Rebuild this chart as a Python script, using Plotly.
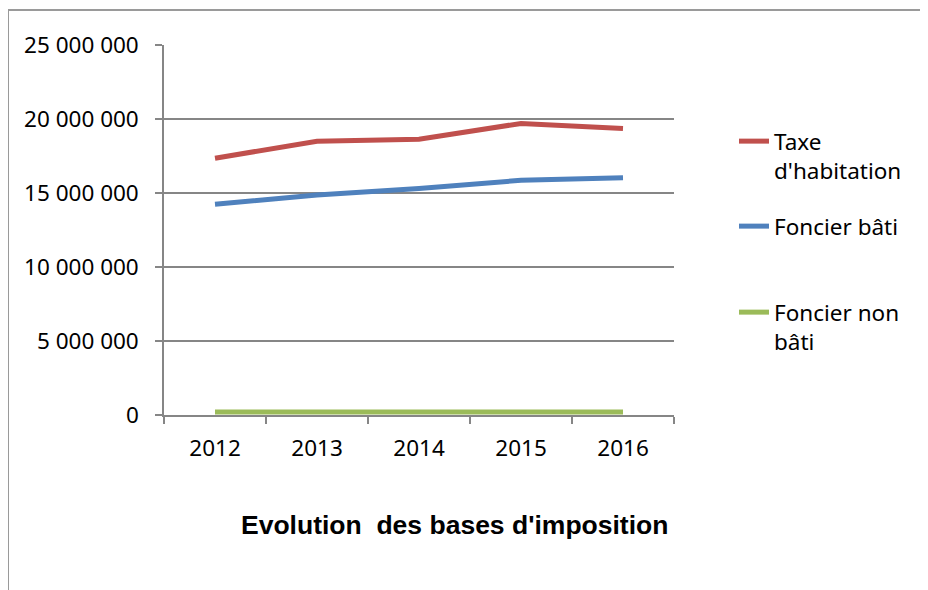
import plotly.graph_objects as go

years = ["2012", "2013", "2014", "2015", "2016"]
taxe_habitation = [17350000, 18500000, 18630000, 19700000, 19350000]
foncier_bati = [14240000, 14860000, 15300000, 15860000, 16030000]
foncier_non_bati = [200000, 200000, 200000, 200000, 200000]
y_ticks = [0, 5000000, 10000000, 15000000, 20000000, 25000000]

OFF = 8  # page body margin
W, H = 928 - OFF, 590 - OFF
# plot area in page pixels
L, R, T, B = 164, 674, 45, 415


def px(xp):
    return (xp - L) / (R - L)


def py(yp):
    return (B - yp) / (B - T)


FONT = "Noto Sans"
fig = go.Figure()
series = [
    ("Taxe<br>d'habitation", taxe_habitation, "#C0504D", "legend"),
    ("Foncier bâti", foncier_bati, "#4F81BD", "legend2"),
    ("Foncier non<br>bâti", foncier_non_bati, "#9BBB59", "legend3"),
]
for name, vals, col, leg in series:
    fig.add_trace(go.Scatter(x=years, y=vals, name=name, mode="lines",
                             line=dict(color=col, width=5), legend=leg))

legfont = dict(family=FONT, size=22.5, color="#000000")
legcommon = dict(font=legfont, bgcolor="rgba(0,0,0,0)", xanchor="left",
                 yanchor="top", valign="top", x=px(734))
fig.update_layout(
    width=W, height=H,
    margin=dict(l=L - OFF, r=W - (R - OFF), t=T - OFF, b=H - (B - OFF)),
    paper_bgcolor="white", plot_bgcolor="white",
    separators=", ",
    showlegend=True,
    legend=dict(**legcommon, y=py(120)),
    legend2=dict(**legcommon, y=py(205)),
    legend3=dict(**legcommon, y=py(291)),
    xaxis=dict(type="category", range=[-0.5, 4.5], showgrid=False,
               showline=True, linecolor="#868686", linewidth=1.5,
               ticks="outside", tickson="boundaries", ticklen=7,
               tickcolor="#868686", tickwidth=1.5, ticklabelstandoff=12,
               tickfont=dict(family=FONT, size=22.5, color="#000000")),
    yaxis=dict(range=[0, 25000000], tickvals=y_ticks, tickformat=",d",
               showgrid=True, gridcolor="#868686", gridwidth=1.5,
               showline=True, linecolor="#868686", linewidth=1.5,
               ticks="outside", ticklen=7, tickcolor="#868686", tickwidth=1.5,
               zeroline=False, ticklabelstandoff=12,
               tickfont=dict(family=FONT, size=22.5, color="#000000")),
    annotations=[dict(text="<b>Evolution  des bases d'imposition</b>",
                      xref="paper", yref="paper", x=px(454), y=py(525),
                      xanchor="center", yanchor="middle", showarrow=False,
                      font=dict(family="Liberation Sans", size=26.5,
                                color="#000000"))],
    shapes=[
        dict(type="line", xref="paper", yref="paper", x0=px(8), x1=px(935),
             y0=py(10), y1=py(10), line=dict(color="#9a9a9a", width=2)),
        dict(type="line", xref="paper", yref="paper", x0=px(8), x1=px(8),
             y0=py(10), y1=py(600), line=dict(color="#9a9a9a", width=2)),
    ],
)
fig.write_html("out.html")
